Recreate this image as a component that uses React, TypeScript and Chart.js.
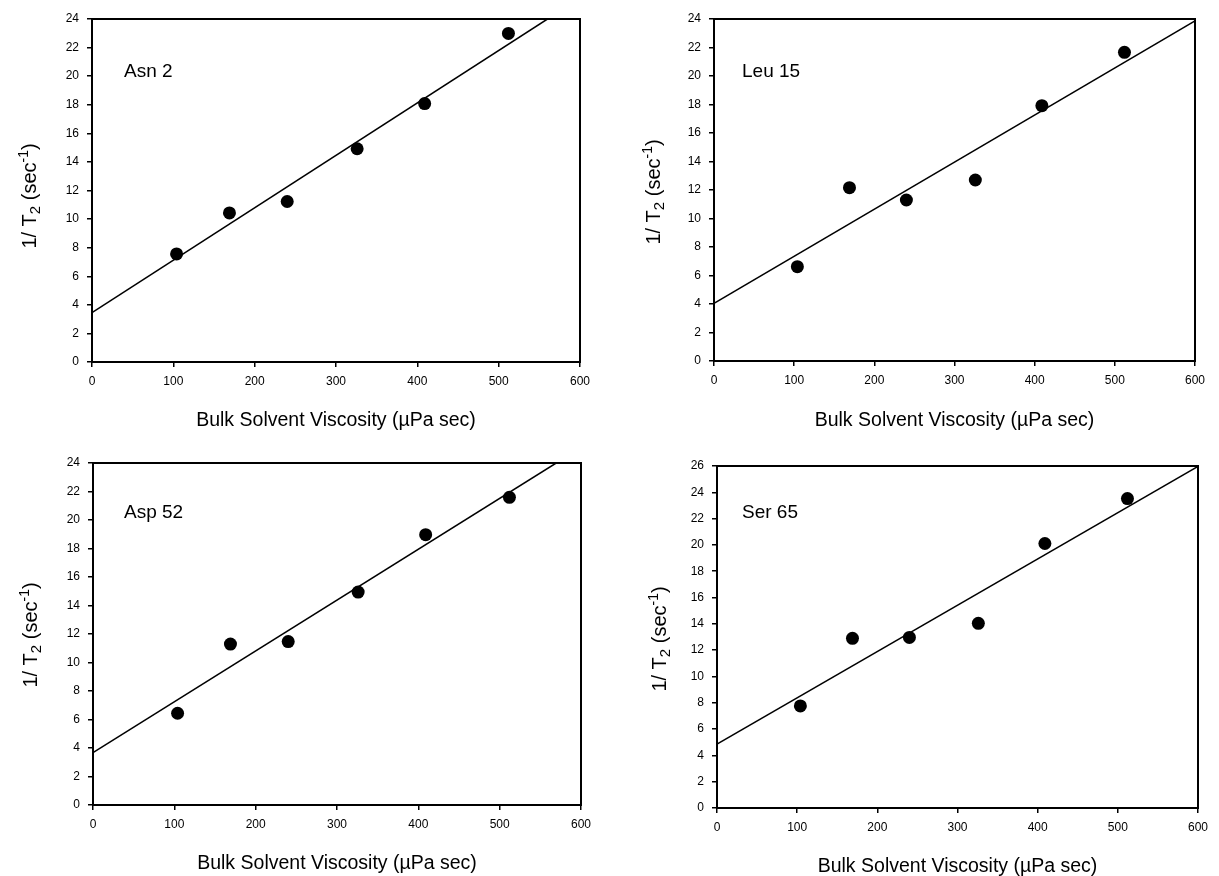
import React, { useEffect, useRef } from "react";
import { Chart, registerables } from "chart.js";

Chart.register(...registerables);

const FONT = "'Liberation Sans', Arial, Helvetica, sans-serif";
Chart.defaults.font.family = FONT;
Chart.defaults.color = "#000";

// ---- data ----
const viscosity = [104, 169, 240, 326, 409, 512];

const asn2 = [7.56, 10.43, 11.23, 14.92, 18.08, 22.99];
const leu15 = [6.62, 12.16, 11.3, 12.7, 17.92, 21.66];
const asp52 = [6.44, 11.29, 11.47, 14.94, 18.97, 21.59];
const ser65 = [7.76, 12.9, 12.97, 14.04, 20.11, 23.52];

// fitted straight lines (end points)
const asn2FitX = [0, 560];
const asn2FitY = [3.46, 24];
const leu15FitX = [0, 600];
const leu15FitY = [4.05, 23.86];
const asp52FitX = [0, 569.5];
const asp52FitY = [3.68, 24];
const ser65FitX = [0, 600];
const ser65FitY = [4.86, 25.97];

const xTicks = [0, 100, 200, 300, 400, 500, 600];
const yTicks24 = [0, 2, 4, 6, 8, 10, 12, 14, 16, 18, 20, 22, 24];
const yTicks26 = [0, 2, 4, 6, 8, 10, 12, 14, 16, 18, 20, 22, 24, 26];

const residueLabels = ["Asn 2", "Leu 15", "Asp 52", "Ser 65"];
const xAxisTitle = "Bulk Solvent Viscosity (\u00B5Pa sec)";

// ---- layout (pixels) ----
const panels = [
  {
    label: residueLabels[0], ys: asn2, fitX: asn2FitX, fitY: asn2FitY, yTicks: yTicks24, yMax: 24,
    left: 0, top: 0, width: 610, height: 435,
    padTop: 19, padRight: 30, yAxisW: 92, xAxisH: 73, xTitlePad: 4.5,
    yTitleX: 29, yTitleY: 196, labelDx: 32, labelDy: 53,
  },
  {
    label: residueLabels[1], ys: leu15, fitX: leu15FitX, fitY: leu15FitY, yTicks: yTicks24, yMax: 24,
    left: 610, top: 0, width: 609, height: 435,
    padTop: 19, padRight: 24, yAxisW: 104, xAxisH: 74, xTitlePad: 4.5,
    yTitleX: 653, yTitleY: 192, labelDx: 28, labelDy: 53,
  },
  {
    label: residueLabels[2], ys: asp52, fitX: asp52FitX, fitY: asp52FitY, yTicks: yTicks24, yMax: 24,
    left: 0, top: 435, width: 610, height: 460,
    padTop: 28, padRight: 29, yAxisW: 93, xAxisH: 90, xTitlePad: 21.2,
    yTitleX: 30, yTitleY: 635, labelDx: 31, labelDy: 50,
  },
  {
    label: residueLabels[3], ys: ser65, fitX: ser65FitX, fitY: ser65FitY, yTicks: yTicks26, yMax: 26,
    left: 610, top: 435, width: 609, height: 460,
    padTop: 31, padRight: 21, yAxisW: 107, xAxisH: 87, xTitlePad: 18.2,
    yTitleX: 659, yTitleY: 639, labelDx: 25, labelDy: 47,
  },
];

function decorPlugin(p: any) {
  return {
    id: "decor",
    afterDraw(chart: any) {
      const { ctx, chartArea: a } = chart;
      ctx.save();
      // frame
      ctx.strokeStyle = "#000";
      ctx.lineWidth = 2;
      ctx.strokeRect(a.left, a.top, a.right - a.left, a.bottom - a.top);
      // residue label
      ctx.fillStyle = "#000";
      ctx.font = `19px ${FONT}`;
      ctx.textAlign = "left";
      ctx.textBaseline = "middle";
      ctx.fillText(p.label, a.left + p.labelDx, a.top + p.labelDy);
      // y-axis title with subscript / superscript
      const parts = [
        { t: "1/ T", size: 20, dy: 0 },
        { t: "2", size: 15, dy: 4 },
        { t: " (sec", size: 20, dy: 0 },
        { t: "-1", size: 14, dy: -8 },
        { t: ")", size: 20, dy: 0 },
      ];
      let total = 0;
      const widths = parts.map((q) => {
        ctx.font = `${q.size}px ${FONT}`;
        const w = ctx.measureText(q.t).width;
        total += w;
        return w;
      });
      ctx.translate(p.yTitleX - p.left, p.yTitleY - p.top);
      ctx.rotate(-Math.PI / 2);
      ctx.textBaseline = "alphabetic";
      let x = -total / 2;
      parts.forEach((q, i) => {
        ctx.font = `${q.size}px ${FONT}`;
        ctx.fillText(q.t, x, 7 + q.dy);
        x += widths[i];
      });
      ctx.restore();
    },
  };
}

function Panel({ p }: { p: any }) {
  const ref = useRef<HTMLCanvasElement>(null);
  useEffect(() => {
    const chart = new Chart(ref.current as HTMLCanvasElement, {
      type: "scatter",
      data: {
        datasets: [
          {
            data: viscosity.map((x, i) => ({ x, y: p.ys[i] })),
            pointRadius: 6.5,
            pointHoverRadius: 6.5,
            backgroundColor: "#000",
            borderWidth: 0,
            showLine: false,
          },
          {
            data: p.fitX.map((x: number, i: number) => ({ x, y: p.fitY[i] })),
            showLine: true,
            pointRadius: 0,
            borderColor: "#000",
            borderWidth: 1.5,
            fill: false,
          },
        ],
      } as any,
      options: {
        responsive: false,
        animation: false,
        events: [],
        layout: { padding: { top: p.padTop, right: p.padRight, left: 0, bottom: 0 } },
        plugins: { legend: { display: false }, tooltip: { enabled: false } },
        scales: {
          x: {
            type: "linear",
            min: 0,
            max: 600,
            afterBuildTicks: (s: any) => {
              s.ticks = xTicks.map((v) => ({ value: v }));
            },
            afterFit: (s: any) => {
              s.height = p.xAxisH;
            },
            ticks: { font: { size: 12 }, color: "#000", padding: 7, maxRotation: 0, autoSkip: false },
            grid: { display: true, drawOnChartArea: false, drawTicks: true, tickLength: 5, color: "#000", lineWidth: 1.5 },
            border: { display: true, color: "#000", width: 2 },
            title: {
              display: true,
              text: xAxisTitle,
              color: "#000",
              font: { size: 19.5, lineHeight: 1 },
              padding: { top: 0, bottom: p.xTitlePad },
            },
          },
          y: {
            type: "linear",
            min: 0,
            max: p.yMax,
            afterBuildTicks: (s: any) => {
              s.ticks = p.yTicks.map((v: number) => ({ value: v }));
            },
            afterFit: (s: any) => {
              s.width = p.yAxisW;
            },
            ticks: { font: { size: 12 }, color: "#000", padding: 8, autoSkip: false },
            grid: { display: true, drawOnChartArea: false, drawTicks: true, tickLength: 5, color: "#000", lineWidth: 1.5 },
            border: { display: true, color: "#000", width: 2 },
          },
        },
      } as any,
      plugins: [decorPlugin(p)],
    });
    return () => chart.destroy();
  }, []);
  return (
    <canvas
      ref={ref}
      width={p.width}
      height={p.height}
      style={{ position: "absolute", left: p.left, top: p.top, width: p.width, height: p.height }}
    />
  );
}

export default function App() {
  return (
    <div
      style={{
        position: "absolute",
        left: 0,
        top: 0,
        width: 1219,
        height: 876,
        overflow: "hidden",
        background: "#fff",
      }}
    >
      {panels.map((p, i) => (
        <Panel key={i} p={p} />
      ))}
    </div>
  );
}
